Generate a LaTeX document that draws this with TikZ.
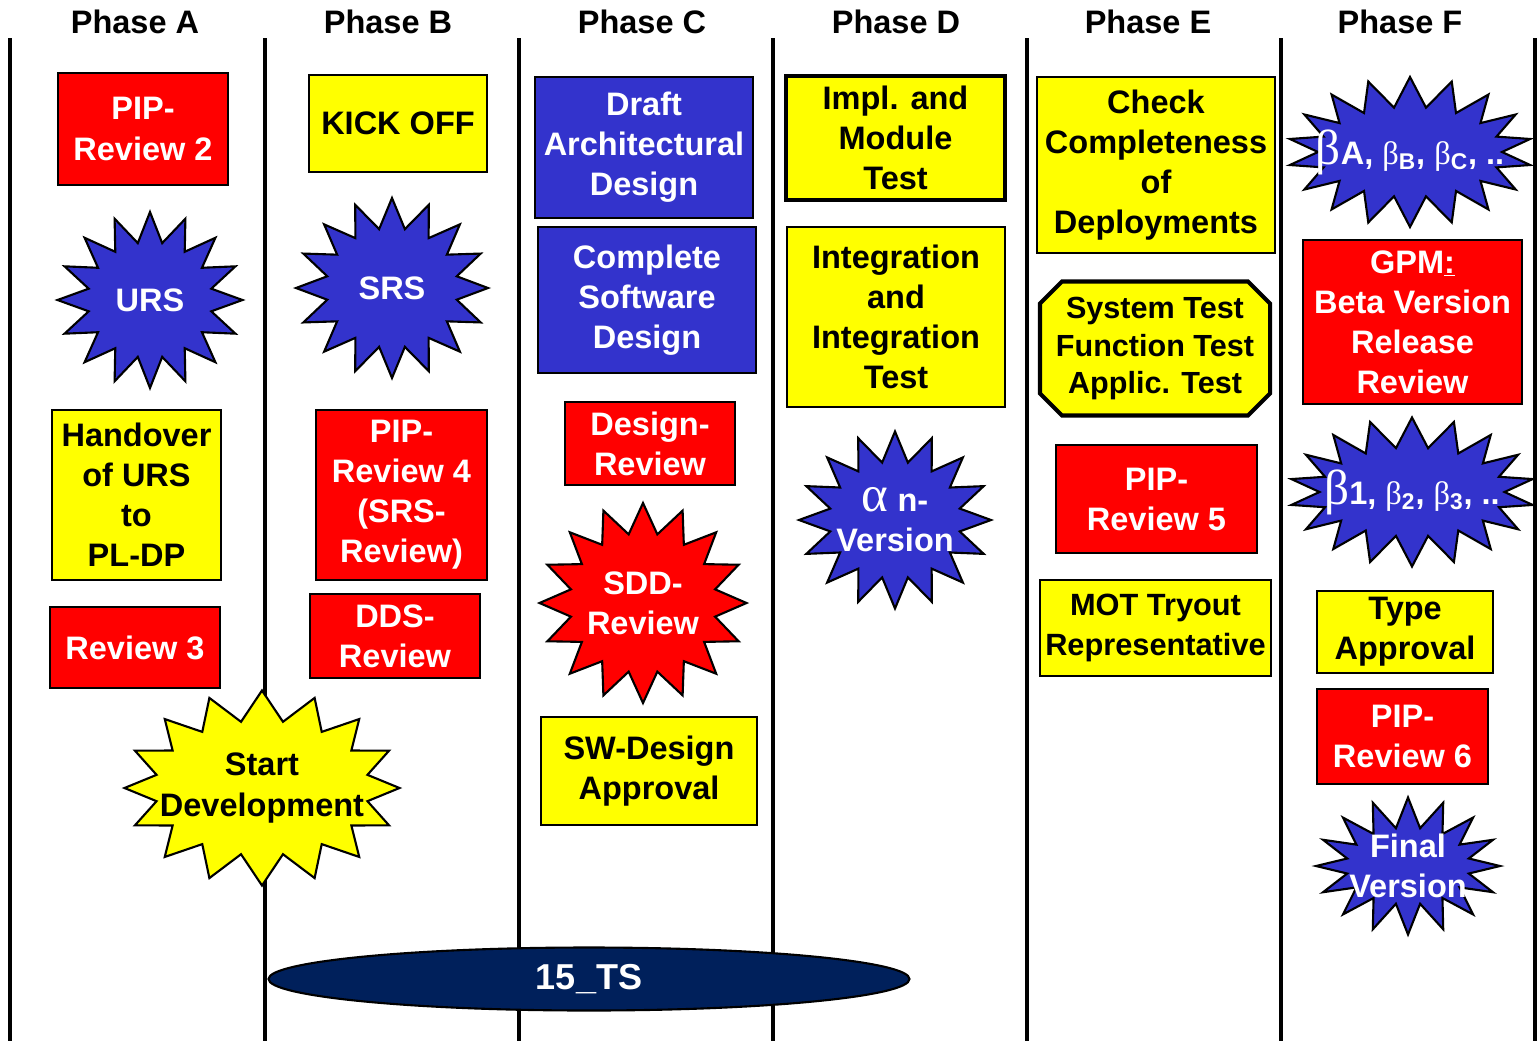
\documentclass[tikz,border=0pt]{standalone}
\usepackage{fontspec}
\setmainfont{Liberation Sans}
\newfontfamily\grk{Liberation Serif}
\usetikzlibrary{shapes.symbols,shapes.misc,shapes.geometric}
\definecolor{pipred}{RGB}{255,0,0}
\definecolor{docblue}{RGB}{51,51,204}
\definecolor{taskyellow}{RGB}{255,255,0}
\definecolor{tsnavy}{RGB}{0,32,91}
\begin{document}
\begin{tikzpicture}[x=0.02cm, y=-0.02cm, font=\bfseries\fontsize{18.5}{22.8}\selectfont]
    \tikzset{dims/.code 2 args={\pgfmathsetlengthmacro\pxw{#1*0.02cm}\pgfmathsetlengthmacro\pxh{#2*0.02cm}%
        \edef\pxnext{\noexpand\pgfkeysalso{minimum width=\pxw, minimum height=\pxh}}\pxnext}}
    \tikzstyle{review} = [rectangle, draw=black, line width=1.2pt, fill=pipred, text=white, align=center, inner sep=1pt]
    \tikzstyle{document} = [rectangle, draw=black, line width=1.2pt, fill=docblue, text=white, align=center, inner sep=1pt]
    \tikzstyle{task} = [rectangle, draw=black, line width=1.2pt, fill=taskyellow, text=black, align=center, inner sep=1pt]
    \tikzstyle{milestone} = [starburst, random starburst=0, starburst points=16, starburst point height=0.6cm, draw=black, line width=1.2pt, inner sep=0pt]
    \tikzstyle{phaseline} = [line width=2.4pt]
    \tikzstyle{phase} = [font=\bfseries\fontsize{18.5}{22}\selectfont]

    \useasboundingbox (0,0) rectangle (1540,1041);

    % Phases
    \foreach \x in {10,265,519,773,1027,1281,1535}
        \draw [phaseline] (\x,38) -- (\x,1041);
    \foreach \x/\name/\lbl in {135/phA/Phase A, 388/phB/Phase B, 642/phC/Phase C, 896/phD/Phase D, 1148/phE/Phase E, 1400/phF/Phase F}
        \node [phase] (\name) at (\x,22) {\lbl};

    % Phase A
    \node [review, dims={170}{112}] (pip_a) at (143,129) {PIP-\\Review 2};
    \node [milestone, fill=docblue, dims={185}{176}, label={[white]center:URS}] (urs) at (150,300) {};
    \node [text=white] (pip3_top) at (135,608) {PIP-};
    \node [review, dims={170}{81}] (pip_b) at (135,647.5) {Review 3};
    \node [task, dims={169}{170}] (handover) at (136.5,495) {Handover\\of URS\\to\\PL-DP};
    \node [milestone, fill=taskyellow, dims={275}{195}, label={[align=center]center:Start\\Development}] (start_dev) at (262,788) {};

    % Phase B
    \node [task, dims={178}{97}] (kick_off) at (398,123.5) {KICK OFF};
    \node [milestone, fill=docblue, dims={192}{180}, label={[white]center:SRS}] (srs) at (392,288) {};
    \node [review, dims={171}{170}] (srs_review) at (401.5,495) {PIP-\\Review 4\\(SRS-\\Review)};
    \node [review, dims={170}{84}] (dds_review) at (395,636) {DDS-\\Review};

    % Phase C
    \node [document, dims={218}{141}] (arch_design) at (644,147.5) {Draft\\Architectural\\Design};
    \node [document, dims={218}{146}] (sw_design) at (647,300) {Complete\\Software\\Design};
    \node [review, dims={170}{83}] (design_review) at (650,443.5) {Design-\\Review};
    \node [milestone, fill=pipred, dims={207}{200}, label={[white, align=center]center:SDD-\\Review}] (sdd_review) at (643,603) {};
    \node [task, dims={216}{108}] (sw_approval) at (649,771) {SW-Design\\Approval};

    % Phase D
    \node [task, dims={219}{124}, line width=2.3pt] (module_test) at (895.5,138) {Impl. and\\Module\\Test};
    \node [task, dims={218}{180}] (integ_test) at (896,317) {Integration\\and\\Integration\\Test};
    \node [milestone, fill=docblue, dims={192}{177}, label={[white, align=center]center:{{\grk\mdseries\fontsize{29}{24}\selectfont α} n-\\Version}}] (alpha_version) at (895,520) {};

    % Phase E
    \node [task, chamfered rectangle, chamfered rectangle xsep=0.22cm, chamfered rectangle ysep=0.22cm, dims={230}{134}, line width=2.3pt, font=\bfseries\fontsize{17.4}{21.3}\selectfont] (sys_test) at (1155,348.5) {System Test\\Function Test\\Applic. Test};
    \node [task, dims={238}{176}] (completeness) at (1156,165) {Check\\Completeness\\of\\Deployments};
    \node [review, dims={201}{108}] (pip_e) at (1156.5,499) {PIP-\\Review 5};
    \node [task, dims={231}{96}, font=\bfseries\fontsize{17.5}{22.8}\selectfont] (mot_tryout) at (1155.5,628) {MOT Tryout\\Representative};

    % Phase F
    \node [milestone, starburst points=18, fill=docblue, dims={244}{150}, label={[white]center:{{\grk\mdseries\fontsize{28}{26}\selectfont β}A, {\grk\mdseries β}\textsubscript{B}, {\grk\mdseries β}\textsubscript{C}, ..}}] (beta_a) at (1410,152) {};
    \node [review, dims={219}{164}] (gpm_review) at (1412.5,322) {GPM\underline{:}\\Beta Version\\Release\\Review};
    \node [milestone, starburst points=18, fill=docblue, dims={245}{149}, label={[white]center:{{\grk\mdseries\fontsize{28}{26}\selectfont β}1, {\grk\mdseries β}\textsubscript{2}, {\grk\mdseries β}\textsubscript{3}, ..}}] (beta_1) at (1412,492) {};
    \node [task, dims={176}{82}] (type_approval) at (1405,632) {Type\\Approval};
    \node [review, dims={171}{95}] (pip_f) at (1402.5,736.5) {PIP-\\Review 6};
    \node [milestone, fill=docblue, dims={184}{137}, label={[white, align=center]center:Final\\Version}] (final_version) at (1408,866) {};

    % Test specification
    \node [ellipse, draw=black, line width=1.2pt, fill=tsnavy, text=white, dims={641}{63}, inner sep=0pt, font=\bfseries\fontsize{20.5}{24}\selectfont] (ts) at (589,979) {15\_TS};
\end{tikzpicture}
\end{document}
